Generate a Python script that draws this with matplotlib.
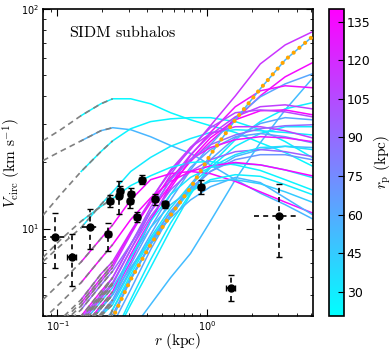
import numpy as np
import matplotlib
matplotlib.use("Agg")
import matplotlib.pyplot as plt
from matplotlib import colors, cm

r_grid = [0.08, 0.105, 0.144, 0.195, 0.234, 0.309, 0.42, 0.571, 0.776, 1.055, 1.549, 2.274, 3.337, 5.05]

# Vcirc (km/s) of each subhalo on r_grid, and its pericentre r_p (kpc)
v_c1 = [25.1, 28.2, 32.7, 37.0, 39.0, 39.0, 37.0, 33.7, 31.3, 29.4, 27.4, 24.6, 22.2, 19.3]
v_c2 = [20.4, 22.5, 25.1, 27.9, 28.8, 28.2, 26.2, 23.9, 22.0, 19.5, 16.7, 14.5, 12.85, 11.1]
v_c3 = [11.5, 14.3, 18.2, 22.4, 25.1, 28.5, 30.7, 31.6, 32.0, 32.0, 30.7, 28.2, 24.9, 21.1]
v_c4 = [7.08, 8.38, 10.1, 12.85, 14.7, 18.2, 21.1, 23.7, 25.7, 27.4, 28.2, 27.9, 27.4, 26.7]
v_b1 = [3.2, 3.86, 4.75, 6.2, 7.08, 9.7, 13.5, 18.2, 22.9, 29.4, 40.2, 56.2, 68.6, 78.6]
v_b3 = [2.74, 3.25, 4.0, 5.17, 5.98, 8.46, 11.95, 15.85, 20.2, 24.9, 31.3, 40.2, 49.1, 56.8]
v_b4 = [2.15, 2.56, 3.15, 4.05, 4.65, 6.51, 9.39, 13.5, 18.5, 24.1, 32.0, 39.8, 45.6, 50.6]
v_b5 = [1.0, 1.2, 1.6, 2.07, 2.54, 3.4, 4.51, 5.98, 7.7, 10.8, 16.7, 24.6, 34.7, 48.1]
v_b6 = [2.3, 2.74, 3.37, 4.33, 5.01, 7.08, 10.8, 15.85, 21.5, 27.4, 35.9, 42.4, 44.7, 43.8]
v_b7 = [1.1, 1.35, 1.75, 2.29, 3.13, 4.51, 6.65, 9.9, 14.3, 19.5, 25.4, 30.7, 35.1, 37.4]
v_b8 = [2.54, 3.03, 3.72, 4.8, 5.57, 8.03, 11.95, 16.7, 21.7, 26.7, 32.3, 35.9, 36.6, 35.1]
v_b9 = [2.35, 2.82, 3.47, 4.45, 5.17, 7.62, 11.0, 15.3, 20.6, 25.9, 31.3, 34.4, 34.7, 33.0]
v_b10 = [2.7, 3.2, 3.9, 5.0, 5.98, 8.46, 12.5, 17.6, 23.4, 28.8, 33.7, 34.7, 34.0, 32.3]
v_b11 = [1.1, 1.35, 1.86, 2.54, 3.66, 5.28, 8.03, 11.6, 15.85, 20.6, 25.9, 30.1, 32.0, 31.3]
v_b12 = [1.0, 1.2, 1.7, 2.29, 3.19, 4.75, 7.23, 10.6, 14.5, 19.0, 23.7, 27.1, 29.1, 29.1]
v_b14 = [3.03, 3.63, 4.45, 5.74, 6.65, 9.39, 13.5, 18.5, 23.4, 27.1, 29.1, 29.1, 27.9, 25.9]
v_b15 = [2.2, 2.6, 3.2, 4.1, 4.75, 6.86, 10.1, 14.3, 19.0, 22.9, 26.2, 27.1, 26.2, 24.6]
v_b16 = [1.5, 1.9, 2.6, 3.47, 4.28, 5.98, 8.46, 11.35, 15.0, 18.2, 21.3, 22.9, 23.7, 23.4]
v_b19 = [2.3, 2.74, 3.37, 4.33, 5.01, 7.39, 10.8, 14.3, 17.1, 19.0, 19.8, 19.5, 18.5, 17.1]
v_b20 = [4.75, 5.68, 7.05, 9.0, 10.4, 13.5, 16.7, 17.8, 18.2, 17.8, 16.4, 14.7, 13.2, 11.8]
v_b22 = [2.3, 2.74, 3.37, 4.33, 5.01, 6.65, 8.91, 11.2, 13.5, 15.5, 17.1, 16.2, 13.8, 11.6]
v_b23 = [7.39, 8.91, 10.8, 12.6, 13.7, 15.7, 17.4, 19.0, 20.0, 20.2, 19.5, 18.4, 16.7, 15.0]
v_b24 = [1.1, 1.51, 2.07, 3.13, 4.28, 6.18, 8.91, 11.95, 14.7, 16.7, 17.6, 17.3, 15.85, 14.3]
v_b26 = [3.13, 3.74, 4.6, 5.92, 6.86, 9.6, 13.1, 17.1, 20.6, 23.4, 25.4, 26.2, 25.9, 24.9]
v_b27 = [2.6, 3.1, 3.8, 4.9, 5.68, 8.03, 11.35, 15.0, 18.2, 20.6, 22.4, 22.9, 22.4, 21.3]
v_b28 = [1.35, 1.7, 2.07, 2.97, 4.06, 5.86, 8.63, 11.95, 15.3, 18.2, 20.6, 21.7, 21.7, 20.6]
v_b29 = [3.86, 4.6, 5.68, 7.3, 8.46, 11.0, 13.8, 16.4, 18.2, 19.3, 20.0, 19.5, 18.5, 17.4]
v_b30 = [2.9, 3.47, 4.28, 5.52, 6.4, 8.5, 12.0, 16.7, 20.6, 24.1, 26.7, 28.5, 29.4, 29.7]
v_b31 = [2.15, 2.55, 3.1, 4.0, 4.51, 6.4, 9.1, 12.4, 15.85, 19.0, 21.7, 23.4, 23.7, 22.9]
v_b32 = [2.5, 2.95, 3.62, 4.65, 5.4, 7.4, 10.1, 12.85, 15.0, 16.4, 16.7, 16.0, 14.7, 13.2]

curves = [v_c1, v_c2, v_c3, v_c4, v_b1, v_b3, v_b4, v_b5, v_b6, v_b7, v_b8, v_b9,
          v_b10, v_b11, v_b12, v_b14, v_b15, v_b16, v_b19, v_b20, v_b22, v_b23,
          v_b24, v_b26, v_b27, v_b28, v_b29, v_b30, v_b31, v_b32]
r_peri = [24, 55, 26, 30, 115, 135, 62, 52, 132, 28, 110, 138,
          105, 62, 30, 112, 65, 55, 32, 135, 55, 26,
          28, 130, 95, 70, 138, 90, 35, 45]

# the highlighted subhalo (orange dots)
v_special = [1.2, 1.51, 2.07, 3.06, 3.92, 5.86, 8.46, 11.5, 15.3, 21.7, 31.3, 43.3, 58.6, 74.6]
rp_special = 55

# observed dwarfs: r_half (kpc), Vcirc (km/s) and ranges
obs_r = [0.096, 0.125, 0.165, 0.217, 0.225, 0.256, 0.262, 0.309, 0.305, 0.339, 0.37, 0.447, 0.521, 0.91, 3.04, 1.44]
obs_v = [9.2, 7.44, 10.2, 9.43, 13.4, 14.1, 14.9, 14.4, 13.4, 11.3, 16.7, 13.6, 12.9, 15.5, 11.4, 5.38]
obs_v_lo = [6.6, 5.47, 8.1, 7.94, 12.6, 11.6, 14.2, 13.5, 12.4, 10.7, 15.9, 12.85, 12.4, 14.4, 7.4, 4.68]
obs_v_hi = [11.8, 9.4, 12.3, 10.6, 14.2, 16.4, 15.7, 15.3, 14.4, 11.9, 17.5, 14.4, 13.4, 16.6, 16.0, 6.13]
obs_r_lo = [0.078, 0.116, 0.147, 0.207, 0.215, 0.245, 0.25, 0.295, 0.291, 0.323, 0.353, 0.427, 0.497, 0.87, 2.07, 1.34]
obs_r_hi = [0.119, 0.134, 0.186, 0.227, 0.236, 0.268, 0.275, 0.323, 0.319, 0.355, 0.388, 0.468, 0.546, 0.95, 4.06, 1.55]
y_dashed = [1, 1, 1, 1, 0, 1, 0, 0, 0, 0, 0, 0, 0, 0, 1, 1]
x_dashed = [1, 0, 1, 0, 0, 0, 0, 0, 0, 0, 0, 0, 0, 0, 1, 0]

cbar_ticks = [30, 45, 60, 75, 90, 105, 120, 135]

i_col = 2   # colored curve starts here
i_conv = 4  # unresolved (grey dashed) up to here

cmap = plt.get_cmap("cool")
norm = colors.Normalize(vmin=20.5, vmax=140)

fig = plt.figure(figsize=(3.92, 3.52), dpi=100)
ax = fig.add_axes([0.1097, 0.1023, 0.688, 0.8722])

r = np.array(r_grid)
for v, rp in zip(curves, r_peri):
    v = np.array(v)
    ax.plot(r[i_col:], v[i_col:], color=cmap(norm(rp)), lw=1.1, zorder=2)
ax.plot(r[i_col:], np.array(v_special)[i_col:], color=cmap(norm(rp_special)), lw=1.1, zorder=2)
for v in curves + [v_special]:
    ax.plot(r[:i_conv + 1], np.array(v)[:i_conv + 1], color="0.5", lw=1.2,
            ls=(0, (3.5, 2.5)), zorder=3)
ax.plot(r, v_special, color="orange", lw=3.0, ls=(0, (0.01, 1.8)),
        dash_capstyle="round", zorder=4)

for i in range(len(obs_r)):
    yerr = [[obs_v[i] - obs_v_lo[i]], [obs_v_hi[i] - obs_v[i]]]
    xerr = [[obs_r[i] - obs_r_lo[i]], [obs_r_hi[i] - obs_r[i]]]
    e1 = ax.errorbar([obs_r[i]], [obs_v[i]], yerr=yerr, fmt="none", ecolor="k",
                     elinewidth=1.2, capsize=2, capthick=1, zorder=5)
    if y_dashed[i]:
        e1[2][0].set_linestyle((0, (3, 2.5)))
    e2 = ax.errorbar([obs_r[i]], [obs_v[i]], xerr=xerr, fmt="none", ecolor="k",
                     elinewidth=1.2, capsize=0 if x_dashed[i] else 2, capthick=1, zorder=5)
    if x_dashed[i]:
        e2[2][0].set_linestyle((0, (3, 2.5)))
ax.plot(obs_r, obs_v, "o", color="k", ms=5, zorder=6)

ax.set_xscale("log")
ax.set_yscale("log")
ax.set_xlim(0.08, 5.1)
ax.set_ylim(4, 100)
ax.tick_params(which="both", direction="in", top=True, right=True, labelsize=7, pad=2.5)
ax.tick_params(which="major", length=5, width=0.8)
ax.tick_params(which="minor", length=2.5, width=0.6)
for s in ax.spines.values():
    s.set_linewidth(1.2)

ax.set_xlabel(r"$r\ (\rm kpc)$", fontsize=11, math_fontfamily="cm")
ax.xaxis.set_label_coords(0.5, -0.05)
ax.set_ylabel(r"$V_{\rm circ}\ (\rm km\ s^{-1})$", fontsize=11, math_fontfamily="cm")
ax.yaxis.set_label_coords(-0.075, 0.5)
ax.text(0.295, 0.925, r"$\rm SIDM\ subhalos$", transform=ax.transAxes, fontsize=11.5,
        math_fontfamily="cm", ha="center", va="center")

cax = fig.add_axes([0.8393, 0.1023, 0.0383, 0.8722])
sm = cm.ScalarMappable(cmap=cmap, norm=norm)
cb = fig.colorbar(sm, cax=cax, ticks=cbar_ticks)
cb.ax.tick_params(labelsize=9, length=4, width=0.8, direction="in", pad=2)
cb.outline.set_linewidth(1.2)
cb.set_label(r"$r_{\rm p}\ (\rm kpc)$", fontsize=11, math_fontfamily="cm")
cb.ax.yaxis.set_label_coords(2.9, 0.5)

fig.savefig("out.png", dpi=100)
